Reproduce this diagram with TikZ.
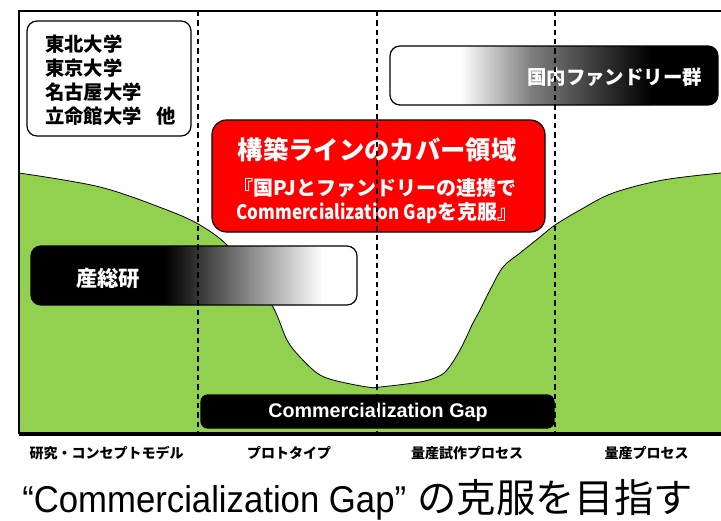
\documentclass[tikz,border=0pt]{standalone}
\usepackage{fontspec}
\setmainfont{Liberation Sans}
\newfontfamily\jp{Noto Sans CJK JP}
\definecolor{leaf}{RGB}{146,208,80}
\definecolor{redfill}{RGB}{255,0,0}
\tikzset{
  box/.style={draw=black, line width=0.9pt, rounded corners=7.5pt, inner sep=0pt},
  divider/.style={draw=black, line width=1.1pt, dash pattern=on 4pt off 3pt},
  stage/.style={font=\jp\bfseries\fontsize{10.5}{12}\selectfont, anchor=center},
}
\begin{document}
\begin{tikzpicture}[x=0.75pt,y=-0.75pt]
\useasboundingbox (0,0) rectangle (721,521);
% green region
\fill[leaf] plot[smooth, tension=0.55] coordinates {(19,173) (100,187) (167,210) (200,225) (227,245) (250,275) (273,307) (287,340) (300,357) (317,373) (333,380) (367,387) (380,387) (420,382) (437,377) (447,370) (460,350) (473,323) (480,310) (490,290) (503,267) (520,253) (540,237) (555,225) (580,210) (613,193) (663,180) (721,173)} -- (721,434) -- (19,434) -- cycle;
\draw[line width=0.6pt] plot[smooth, tension=0.55] coordinates {(19,173) (100,187) (167,210) (200,225) (227,245) (250,275) (273,307) (287,340) (300,357) (317,373) (333,380) (367,387) (380,387) (420,382) (437,377) (447,370) (460,350) (473,323) (480,310) (490,290) (503,267) (520,253) (540,237) (555,225) (580,210) (613,193) (663,180) (721,173)};
% frame
\draw[line width=1.5pt] (721,11) -- (19,11) -- (19,434);
\draw[line width=2.4pt] (19,434) -- (721,434);
% university box
\node[box, fill=white, minimum width=123pt, minimum height=86.25pt] (uni) at (109,78.5) {};
\node[anchor=west, align=left, inner sep=0pt, font=\jp\bfseries\fontsize{14.5}{18}\selectfont] (unitext) at (45,80) {東北大学\\東京大学\\名古屋大学\\立命館大学\hspace{0.75em}他};
% red box
\node[box, fill=redfill, rounded corners=11pt, minimum width=249.75pt, minimum height=84pt] (red) at (378.5,176) {};
\node[text=white, font=\jp\bfseries\fontsize{19}{22}\selectfont] (redtitle) at (377,150) {構築ラインのカバー領域};
\node[text=white, font=\jp\bfseries\fontsize{15}{18}\selectfont] (redsub) at (375,188) {『国PJとファンドリーの連携で};
\node[text=white, font=\jp\bfseries\fontsize{15}{18}\selectfont] (redsub2) at (377,213) {\scalebox{0.85}[1]{Commercialization Gap}を克服』};
% foundry box (gradient white -> black)
\begin{scope}
\clip[rounded corners=7.5pt] (390,46) rectangle (718,105);
\fill[white] (390,46) rectangle (461,105);
\shade[left color=white, right color=black!50] (460,46) rectangle (531,105);
\shade[left color=black!50, right color=black] (530,46) rectangle (651,105);
\fill[black] (650,46) rectangle (718,105);
\end{scope}
\node[box, minimum width=246pt, minimum height=44.25pt] (foundry) at (554,75.5) {};
\node[text=white, anchor=east, font=\jp\bfseries\fontsize{14.6}{17}\selectfont] (foundrytext) at (707,77) {国内ファンドリー群};
% AIST box (gradient black -> white)
\begin{scope}
\clip[rounded corners=7.5pt] (31,246) rectangle (357,305);
\fill[black] (31,246) rectangle (166,305);
\shade[left color=black, right color=white] (165,246) rectangle (323,305);
\fill[white] (322,246) rectangle (357,305);
\end{scope}
\node[box, minimum width=244.5pt, minimum height=44.25pt] (aist) at (194,275.5) {};
\node[text=white, font=\jp\bfseries\fontsize{16}{19}\selectfont] (aisttext) at (108,278) {産総研};
% gap box
\node[box, fill=black, rounded corners=5pt, minimum width=264.75pt, minimum height=24.75pt] (gap) at (377.5,411.5) {};
\node[text=white, font=\bfseries\fontsize{14.8}{17}\selectfont] (gaptext) at (378,412) {Commercialization Gap};
% dividers
\foreach \x in {198,377,555} \draw[divider] (\x,11) -- (\x,434);
% stage labels
\node[stage] (s1) at (106.5,453) {研究・コンセプトモデル};
\node[stage] (s2) at (289,453) {プロトタイプ};
\node[stage] (s3) at (467,453) {量産試作プロセス};
\node[stage] (s4) at (646.5,453) {量産プロセス};
% caption
\node[anchor=base west, inner sep=0pt] (caption) at (22,512) {\fontsize{28}{32}\selectfont\scalebox{0.93}[1]{“Commercialization Gap”}\hspace{0.3em}\jp\fontsize{29.5}{32}\selectfont の克服を目指す};
\end{tikzpicture}
\end{document}
